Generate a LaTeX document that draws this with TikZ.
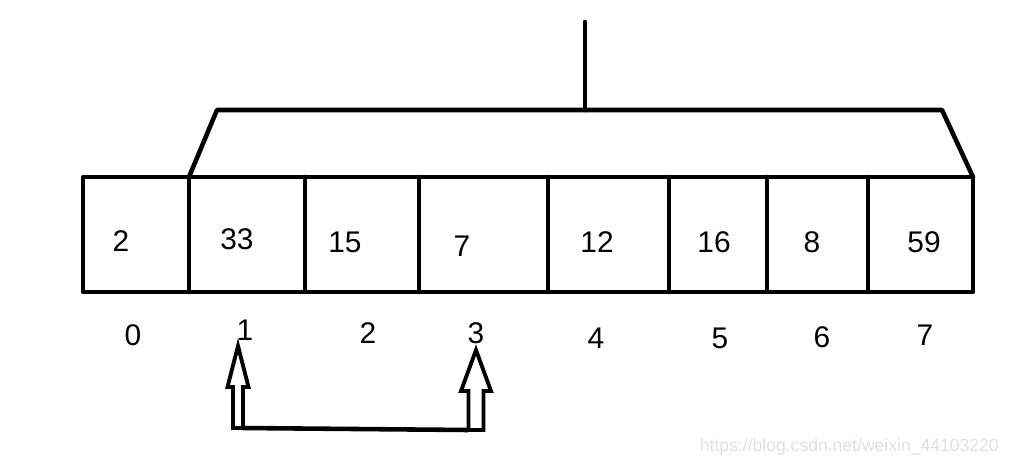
\documentclass[tikz,border=0pt]{standalone}
\usepackage{fontspec}
\setmainfont{Liberation Sans}
\tikzstyle{epais}=[line width=2.6pt, line cap=round, line join=round]
\tikzstyle{valeur}=[font=\fontsize{17}{17}\selectfont, inner sep=0pt]

\begin{document}
\begin{tikzpicture}[x=0.02cm,y=-0.02cm]

\useasboundingbox (0,0) rectangle (1015,467);

%%%%%%%%%%%%%%%%%%%%%%%%
%Le tableau : cases, valeurs et indices
%%%%%%%%%%%%%%%%%%%%%%%%

\def \haut {177} %bord haut des cases
\def \bas {292} %bord bas des cases

\coordinate (c0) at (83,\haut);
\coordinate (c1) at (189,\haut);
\coordinate (c2) at (305,\haut);
\coordinate (c3) at (419,\haut);
\coordinate (c4) at (548,\haut);
\coordinate (c5) at (669,\haut);
\coordinate (c6) at (767,\haut);
\coordinate (c7) at (868,\haut);
\coordinate (c8) at (973,\haut);

%contour des cases
\draw [epais](83,\haut) rectangle (973,\bas);
\foreach \x in {189,305,419,548,669,767,868}{\draw [epais](\x,\haut)--(\x,\bas);}

%valeurs
\node[valeur] (v0) at (121,241) {2};
\node[valeur] (v1) at (237,239) {33};
\node[valeur] (v2) at (345,242) {15};
\node[valeur] (v3) at (462,246) {7};
\node[valeur] (v4) at (597,242) {12};
\node[valeur] (v5) at (714,242) {16};
\node[valeur] (v6) at (812,242) {8};
\node[valeur] (v7) at (924,242) {59};

%indices
\node[valeur] (i0) at (133,335) {0};
\node[valeur] (i1) at (245,330) {1};
\node[valeur] (i2) at (368,333) {2};
\node[valeur] (i3) at (476,333) {3};
\node[valeur] (i4) at (596,338) {4};
\node[valeur] (i5) at (720,338) {5};
\node[valeur] (i6) at (822,337) {6};
\node[valeur] (i7) at (925,335) {7};

%%%%%%%%%%%%%%%%%%%%%%%%
%L'accolade au-dessus (cases 1 à 7)
%%%%%%%%%%%%%%%%%%%%%%%%

\coordinate (H) at (585,22);
\coordinate (P) at (585,110);
\draw [epais](c1)--(217,110)--(942,110)--(c8);
\draw [epais](H)--(P);

%%%%%%%%%%%%%%%%%%%%%%%%
%Les deux flèches creuses et leur liaison
%%%%%%%%%%%%%%%%%%%%%%%%

\begin{scope}[line width=2.2pt, line join=miter]
%flèche sous l'indice 1
\coordinate (A) at (238,428);
\draw (233,428)--(233,387)--(227.5,387)--(238,346)--(248.5,387)--(243,387)--(243,428)--cycle;
%flèche sous l'indice 3
\coordinate (B) at (476,430);
\draw (468.5,430)--(468.5,391)--(461,391)--(476,350)--(491,391)--(483.5,391)--(483.5,430)--cycle;
\end{scope}
\draw [line width=2.6pt]([xshift=0.1cm]A)--([xshift=-0.15cm]B);

%filigrane
\node[font=\fontsize{10}{10}\selectfont, text=black!12, anchor=east] (url) at (1005,447) {https://blog.csdn.net/weixin\_44103220};

\end{tikzpicture}
\end{document}
